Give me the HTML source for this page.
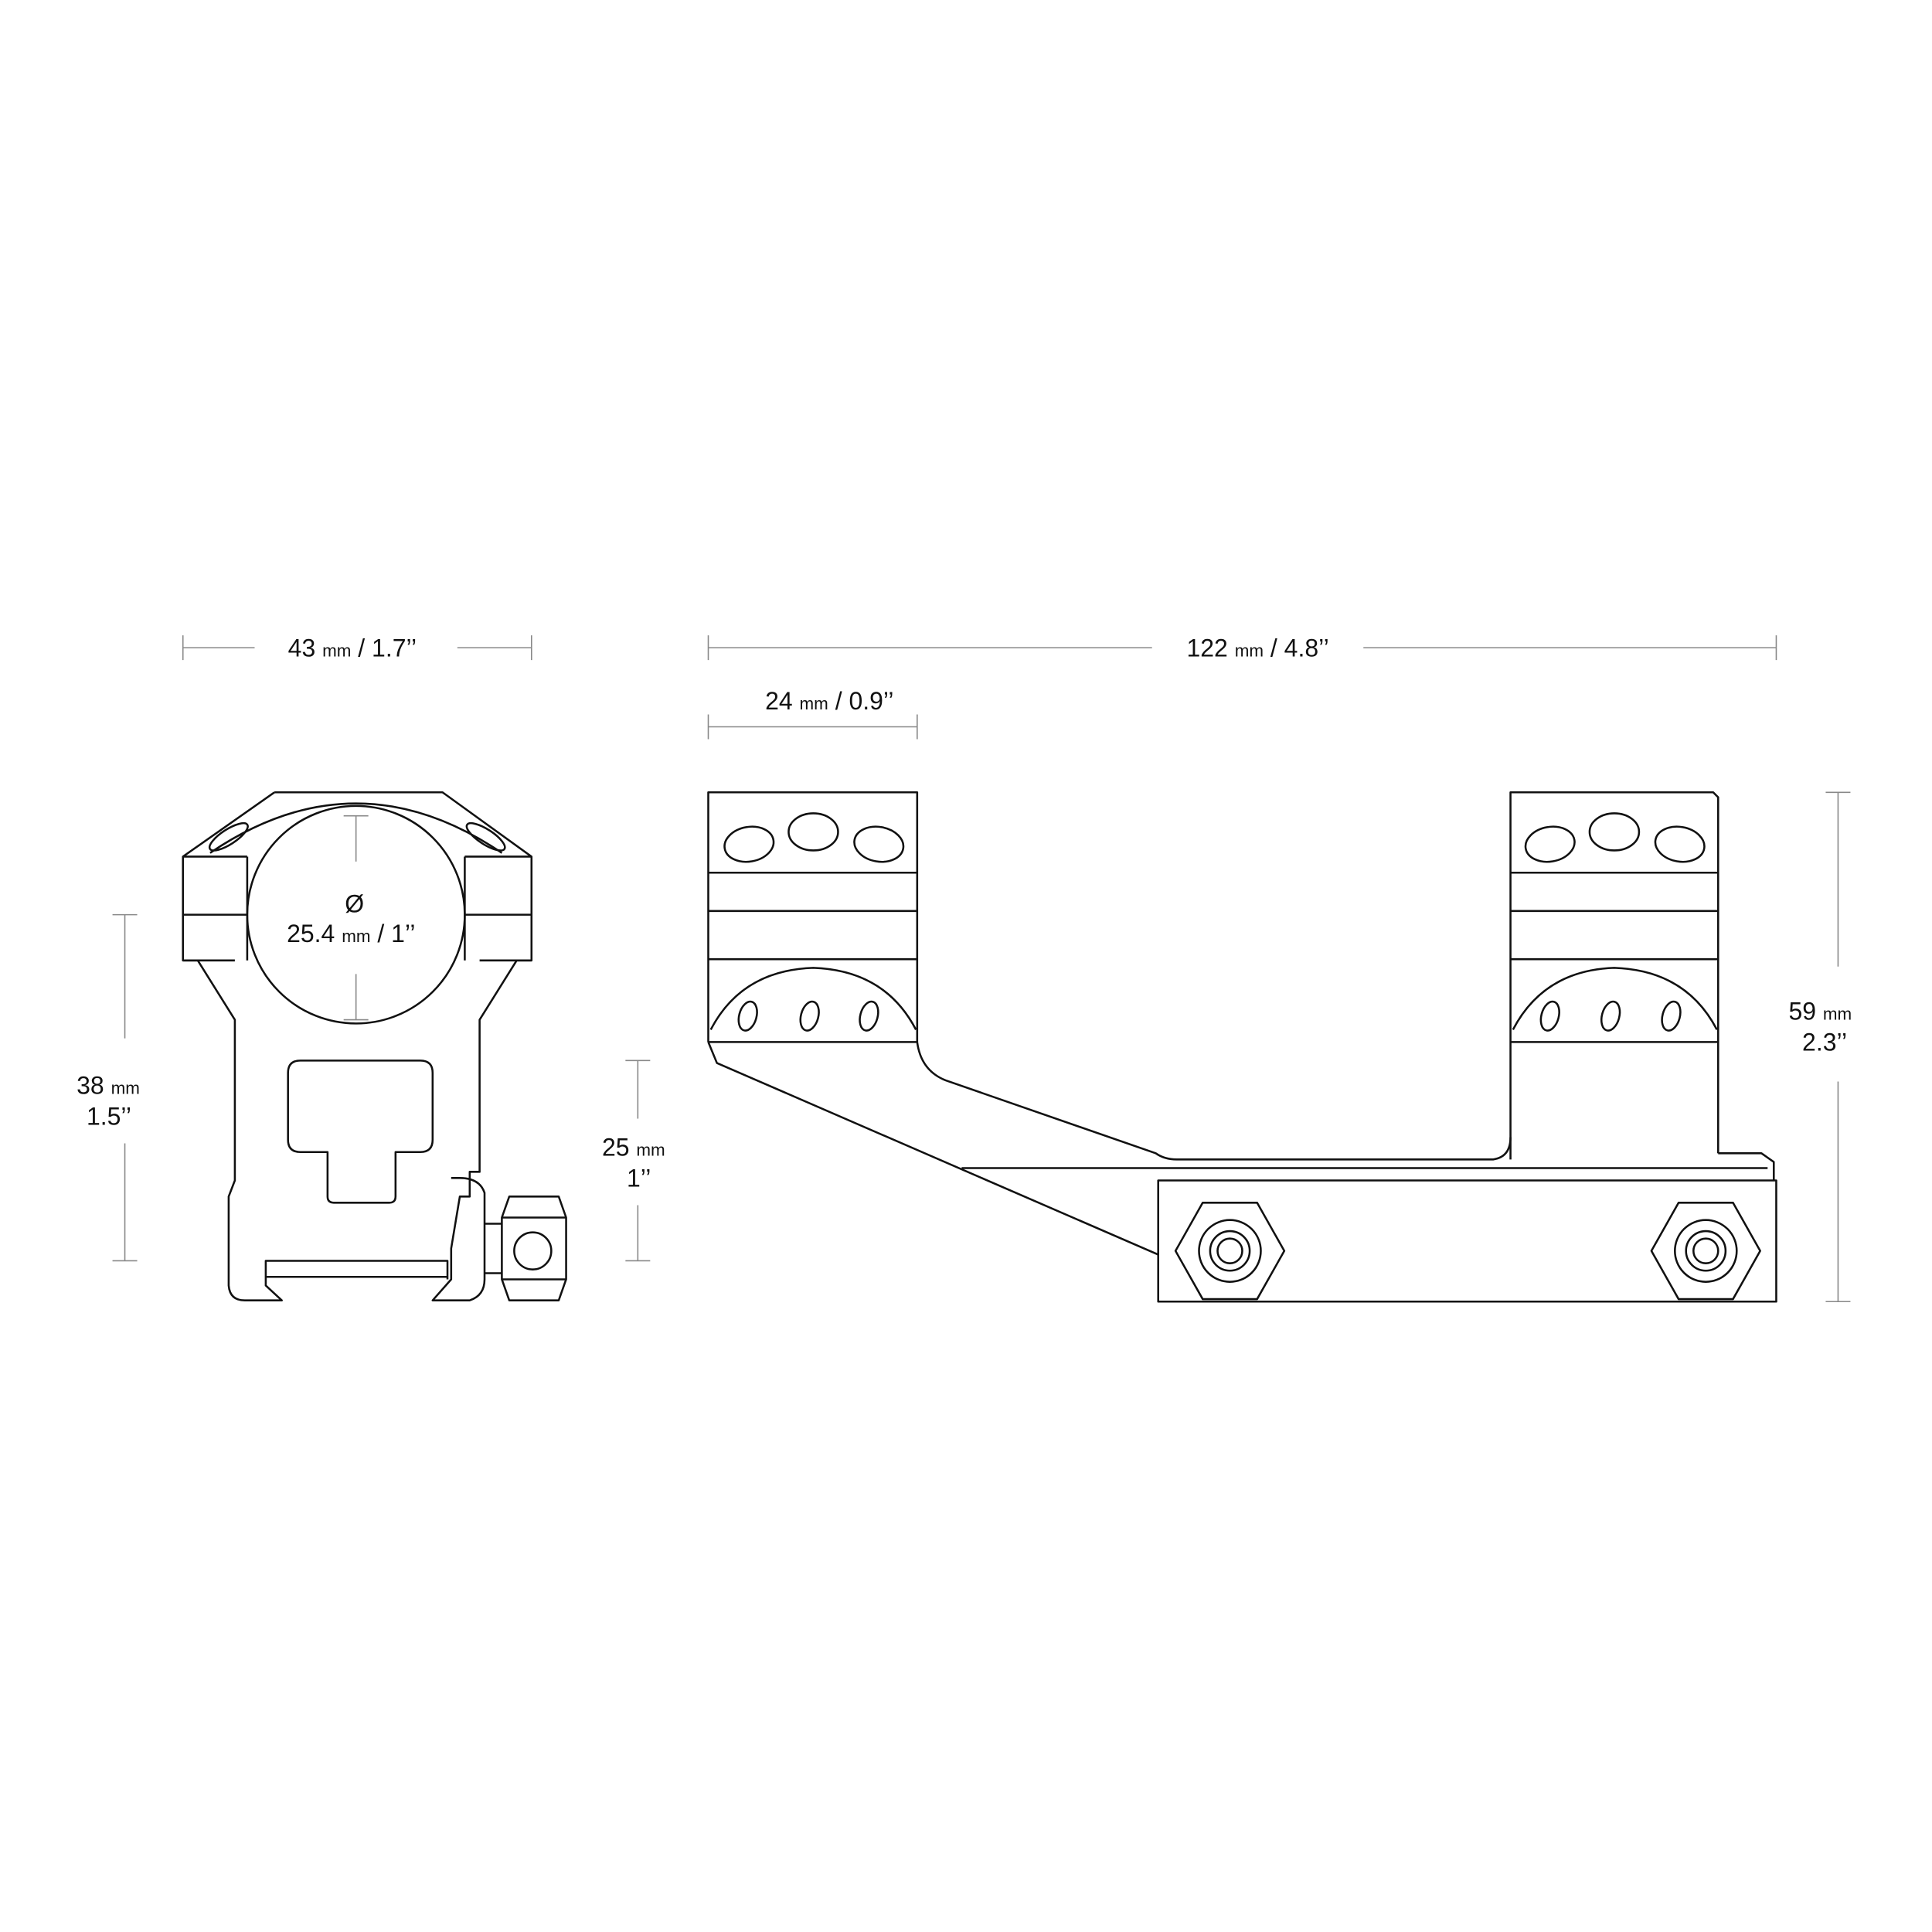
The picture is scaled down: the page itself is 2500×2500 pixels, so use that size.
<!DOCTYPE html>
<html><head><meta charset="utf-8"><style>
html,body{margin:0;padding:0;background:#fff}
svg{display:block}
text{font-family:"Liberation Sans",sans-serif;fill:#111}
</style></head><body>
<svg width="2500" height="2500" viewBox="0 0 1563 1563" xmlns="http://www.w3.org/2000/svg">
<g stroke="#888" stroke-width="1" fill="none">
<!-- 43mm -->
<line x1="148" y1="524" x2="206" y2="524"/><line x1="370" y1="524" x2="430" y2="524"/>
<line x1="148" y1="514" x2="148" y2="534"/><line x1="430" y1="514" x2="430" y2="534"/>
<!-- 122mm -->
<line x1="573" y1="524" x2="932" y2="524"/><line x1="1103" y1="524" x2="1437" y2="524"/>
<line x1="573" y1="514" x2="573" y2="534"/><line x1="1437" y1="514" x2="1437" y2="534"/>
<!-- 24mm -->
<line x1="573" y1="588" x2="742" y2="588"/>
<line x1="573" y1="578" x2="573" y2="598"/><line x1="742" y1="578" x2="742" y2="598"/>
<!-- 38mm -->
<line x1="101" y1="740" x2="101" y2="840"/><line x1="101" y1="925" x2="101" y2="1020"/>
<line x1="91" y1="740" x2="111" y2="740"/><line x1="91" y1="1020" x2="111" y2="1020"/>
<!-- 25mm -->
<line x1="516" y1="858" x2="516" y2="905"/><line x1="516" y1="975" x2="516" y2="1020"/>
<line x1="506" y1="858" x2="526" y2="858"/><line x1="506" y1="1020" x2="526" y2="1020"/>
<!-- 59mm -->
<line x1="1487" y1="641" x2="1487" y2="782"/><line x1="1487" y1="875" x2="1487" y2="1053"/>
<line x1="1477" y1="641" x2="1497" y2="641"/><line x1="1477" y1="1053" x2="1497" y2="1053"/>
<!-- circle dim -->
<line x1="288" y1="660" x2="288" y2="697"/><line x1="288" y1="788" x2="288" y2="825"/>
<line x1="278" y1="660" x2="298" y2="660"/><line x1="278" y1="825" x2="298" y2="825"/>
</g>
<g font-size="20">
<text x="233" y="531">43 <tspan font-size="14">mm</tspan> / 1.7’’</text>
<text x="960" y="531">122 <tspan font-size="14">mm</tspan> / 4.8’’</text>
<text x="619" y="574">24 <tspan font-size="14">mm</tspan> / 0.9’’</text>
<text x="62" y="885">38 <tspan font-size="14">mm</tspan></text>
<text x="70" y="910">1.5’’</text>
<text x="487" y="935">25 <tspan font-size="14">mm</tspan></text>
<text x="507" y="960">1’’</text>
<text x="1447" y="825">59 <tspan font-size="14">mm</tspan></text>
<text x="1458" y="850">2.3’’</text>
<text x="279" y="738">Ø</text>
<text x="232" y="762">25.4 <tspan font-size="14">mm</tspan> / 1’’</text>
</g>
<g stroke="#111" stroke-width="1.6" fill="none" stroke-linejoin="round">
<!-- front ring -->
<path d="M222,641 L358,641 L430,693 L430,777 L418,777 L388,825 L388,948 L380,948 L380,968 L372,968 L365,1010 L365,1035 L350,1052 L380,1052 Q392,1048 392,1035 L392,965 Q388,953 372,953 L365,953"/>
<path d="M222,641 L148,693 L148,777 L160,777 L190,825 L190,955 L185,968 L185,1040 Q186,1052 198,1052 L228,1052 L215,1040 L215,1020 L362,1020 L362,1035"/>
<line x1="215" y1="1033" x2="362" y2="1033"/>
<circle cx="288" cy="740" r="88"/>
<path d="M170,690 Q288,610 406,690"/>
<path d="M200,693 L148,693 M376,693 L430,693 M148,740 L200,740 M376,740 L430,740 M148,777 L190,777 M388,777 L430,777"/>
<path d="M200,693 L200,777 M376,693 L376,777"/>
<ellipse cx="185" cy="677" rx="18" ry="6" transform="rotate(-33 185 677)"/>
<ellipse cx="393" cy="677" rx="18" ry="6" transform="rotate(33 393 677)"/>
<path d="M233,868 Q233,858 243,858 L340,858 Q350,858 350,868 L350,922 Q350,932 340,932 L320,932 L320,968 Q320,973 315,973 L270,973 Q265,973 265,968 L265,932 L243,932 Q233,932 233,922 Z"/>
<!-- nut -->
<path d="M412,968 L452,968 L458,985 L458,1035 L452,1052 L412,1052 L406,1035 L406,985 Z"/>
<line x1="406" y1="985" x2="458" y2="985"/><line x1="406" y1="1035" x2="458" y2="1035"/>
<circle cx="431" cy="1012" r="15"/>
<line x1="392" y1="990" x2="406" y2="990"/><line x1="392" y1="1030" x2="406" y2="1030"/>

<!-- side view blocks -->
<path d="M573,843 L573,641 L742,641 L742,843"/>
<path d="M573,706 H742 M573,737 H742 M573,776 H742 M573,843 H742"/>
<path d="M575,833 Q600,785 658,783 Q716,785 741,833"/>
<ellipse cx="606" cy="683" rx="20" ry="14" transform="rotate(-10 606 683)"/>
<ellipse cx="658" cy="673" rx="20" ry="15"/>
<ellipse cx="711" cy="683" rx="20" ry="14" transform="rotate(10 711 683)"/>
<ellipse cx="605" cy="822" rx="7" ry="12" transform="rotate(15 605 822)"/>
<ellipse cx="655" cy="822" rx="7" ry="12" transform="rotate(15 655 822)"/>
<ellipse cx="703" cy="822" rx="7" ry="12" transform="rotate(15 703 822)"/>

<path d="M1222,938 L1222,641 L1386,641 L1390,645 L1390,933"/>
<path d="M1222,706 H1390 M1222,737 H1390 M1222,776 H1390 M1222,843 H1390"/>
<path d="M1224,833 Q1249,785 1306,783 Q1364,785 1389,833"/>
<ellipse cx="1254" cy="683" rx="20" ry="14" transform="rotate(-10 1254 683)"/>
<ellipse cx="1306" cy="673" rx="20" ry="15"/>
<ellipse cx="1359" cy="683" rx="20" ry="14" transform="rotate(10 1359 683)"/>
<ellipse cx="1254" cy="822" rx="7" ry="12" transform="rotate(15 1254 822)"/>
<ellipse cx="1303" cy="822" rx="7" ry="12" transform="rotate(15 1303 822)"/>
<ellipse cx="1352" cy="822" rx="7" ry="12" transform="rotate(15 1352 822)"/>

<!-- arm -->
<path d="M573,843 L580,860 L937,1015"/>
<path d="M742,843 Q745,866 765,874 L935,933 Q942,938 952,938 L1208,938 Q1222,936 1222,920"/>
<path d="M778,945 L1430,945 M1390,933 L1425,933 L1435,940 L1435,955"/>
<rect x="937" y="955" width="500" height="98"/>
<polygon points="973,973 1017,973 1039,1012 1017,1051 973,1051 951,1012"/>
<circle cx="995" cy="1012" r="25"/><circle cx="995" cy="1012" r="16"/><circle cx="995" cy="1012" r="10"/>
<polygon points="1358,973 1402,973 1424,1012 1402,1051 1358,1051 1336,1012"/>
<circle cx="1380" cy="1012" r="25"/><circle cx="1380" cy="1012" r="16"/><circle cx="1380" cy="1012" r="10"/>
</g>
</svg>
</body></html>
